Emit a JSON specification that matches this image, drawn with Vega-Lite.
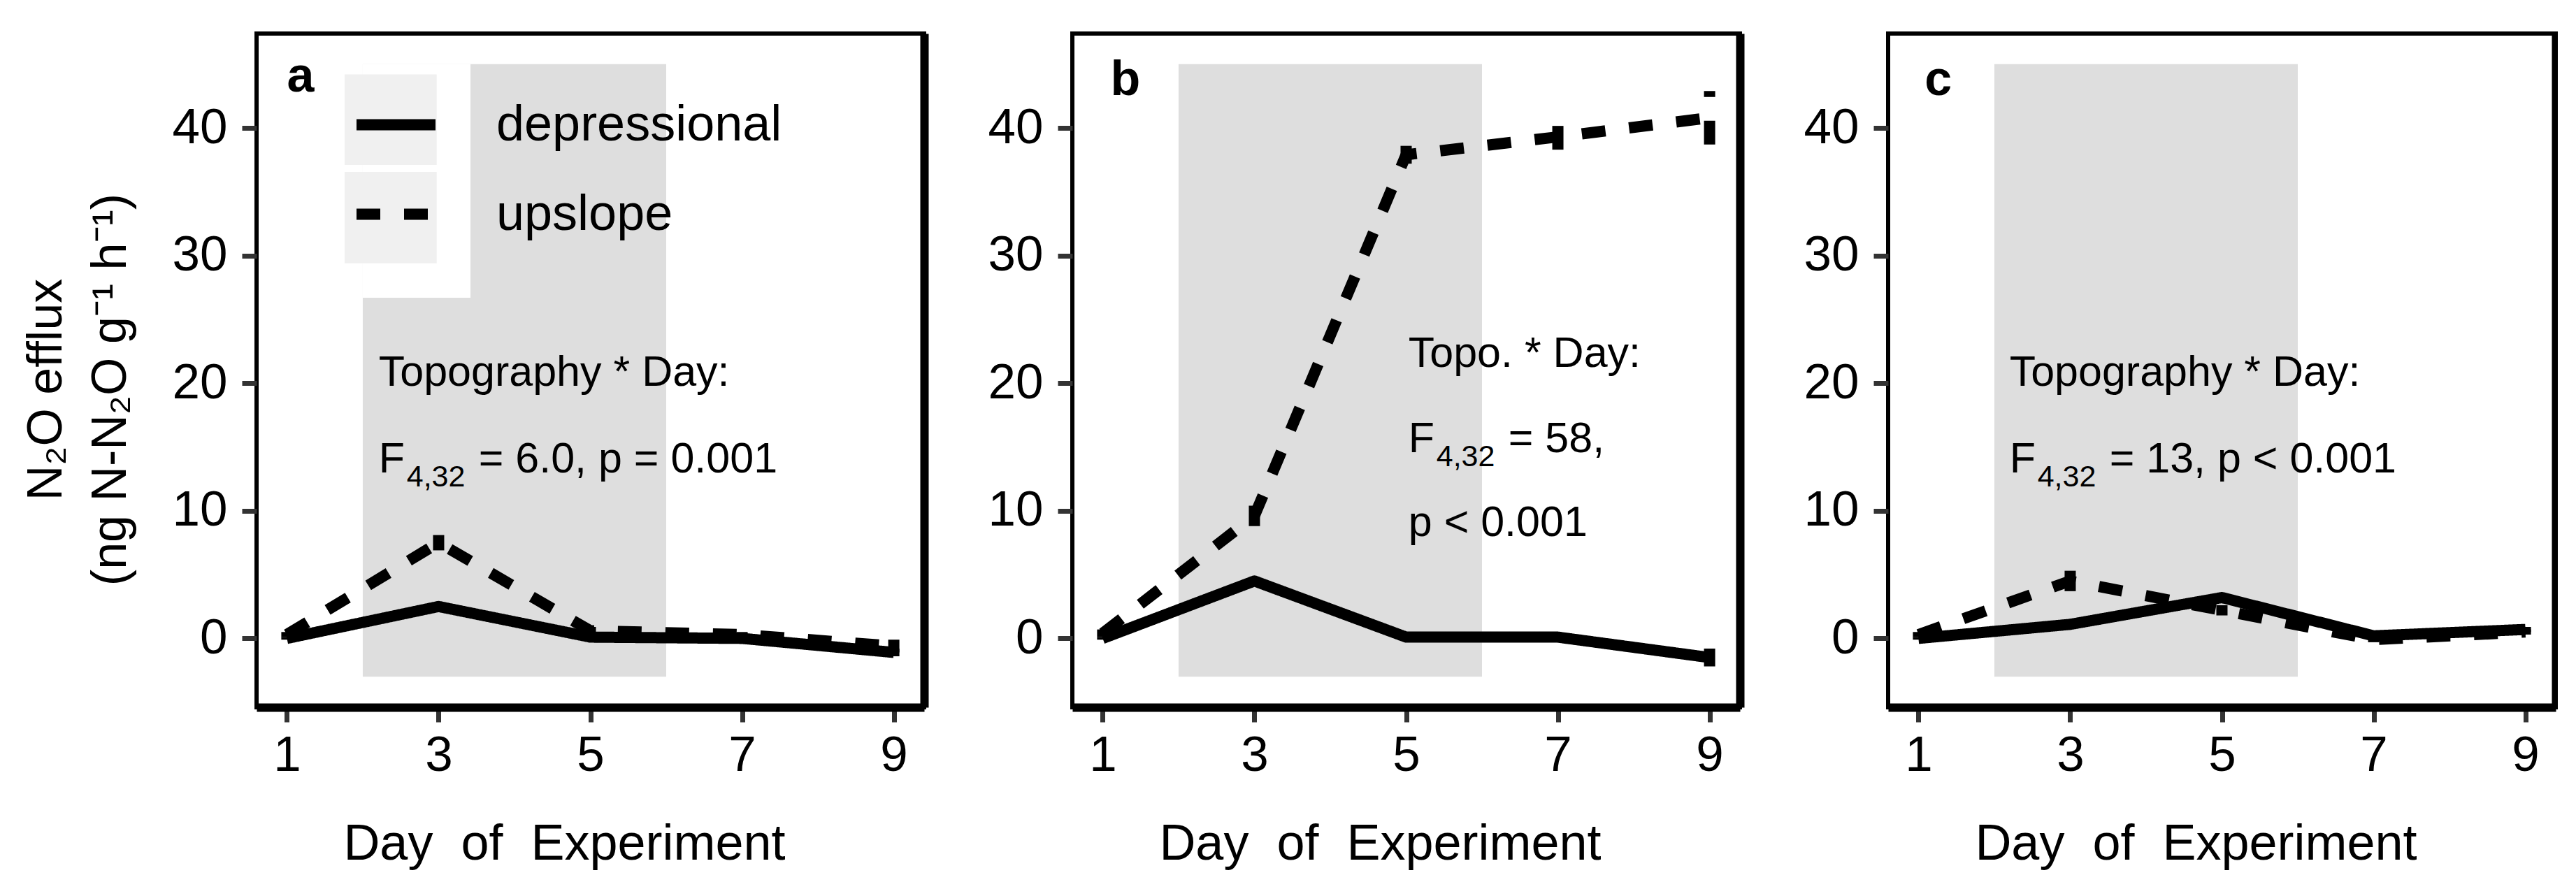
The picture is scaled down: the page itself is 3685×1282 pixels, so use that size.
{
  "$schema": "https://vega.github.io/schema/vega-lite/v6.json",
  "description": "N2O efflux by day of experiment for depressional and upslope soils, three panels.",
  "background": "white",
  "padding": {"left": 27, "top": 45, "right": 0, "bottom": 0},
  "spacing": 212,
  "bounds": "flush",
  "datasets": {
    "flux": [
      {"panel": "a", "day": 1, "topo": "depressional", "mean": 0.0, "lo": -0.1, "hi": 0.1},
      {"panel": "a", "day": 3, "topo": "depressional", "mean": 2.5, "lo": 2.2, "hi": 2.8},
      {"panel": "a", "day": 5, "topo": "depressional", "mean": 0.1, "lo": 0.0, "hi": 0.2},
      {"panel": "a", "day": 7, "topo": "depressional", "mean": 0.0, "lo": -0.1, "hi": 0.1},
      {"panel": "a", "day": 9, "topo": "depressional", "mean": -1.1, "lo": -1.4, "hi": -0.8},
      {"panel": "a", "day": 1, "topo": "upslope", "mean": 0.3, "lo": 0.1, "hi": 0.5},
      {"panel": "a", "day": 3, "topo": "upslope", "mean": 7.5, "lo": 6.9, "hi": 8.1},
      {"panel": "a", "day": 5, "topo": "upslope", "mean": 0.6, "lo": 0.3, "hi": 0.9},
      {"panel": "a", "day": 7, "topo": "upslope", "mean": 0.3, "lo": 0.1, "hi": 0.5},
      {"panel": "a", "day": 9, "topo": "upslope", "mean": -0.6, "lo": -1.1, "hi": -0.1},
      {"panel": "b", "day": 1, "topo": "depressional", "mean": 0.0, "lo": -0.1, "hi": 0.1},
      {"panel": "b", "day": 3, "topo": "depressional", "mean": 4.5, "lo": 4.2, "hi": 4.8},
      {"panel": "b", "day": 5, "topo": "depressional", "mean": 0.1, "lo": 0.0, "hi": 0.2},
      {"panel": "b", "day": 7, "topo": "depressional", "mean": 0.1, "lo": 0.0, "hi": 0.2},
      {"panel": "b", "day": 9, "topo": "depressional", "mean": -1.5, "lo": -2.2, "hi": -0.8},
      {"panel": "b", "day": 1, "topo": "upslope", "mean": 0.4, "lo": 0.1, "hi": 0.7},
      {"panel": "b", "day": 3, "topo": "upslope", "mean": 9.6, "lo": 8.8, "hi": 10.4},
      {"panel": "b", "day": 5, "topo": "upslope", "mean": 37.9, "lo": 37.2, "hi": 38.6},
      {"panel": "b", "day": 7, "topo": "upslope", "mean": 39.3, "lo": 38.3, "hi": 40.3},
      {"panel": "b", "day": 9, "topo": "upslope", "mean": 40.8, "lo": 38.7, "hi": 42.9},
      {"panel": "c", "day": 1, "topo": "depressional", "mean": 0.0, "lo": -0.1, "hi": 0.1},
      {"panel": "c", "day": 3, "topo": "depressional", "mean": 1.1, "lo": 0.9, "hi": 1.3},
      {"panel": "c", "day": 5, "topo": "depressional", "mean": 3.2, "lo": 2.9, "hi": 3.5},
      {"panel": "c", "day": 7, "topo": "depressional", "mean": 0.2, "lo": 0.1, "hi": 0.3},
      {"panel": "c", "day": 9, "topo": "depressional", "mean": 0.7, "lo": 0.5, "hi": 0.9},
      {"panel": "c", "day": 1, "topo": "upslope", "mean": 0.3, "lo": 0.1, "hi": 0.5},
      {"panel": "c", "day": 3, "topo": "upslope", "mean": 4.5, "lo": 3.7, "hi": 5.3},
      {"panel": "c", "day": 5, "topo": "upslope", "mean": 2.2, "lo": 1.8, "hi": 2.6},
      {"panel": "c", "day": 7, "topo": "upslope", "mean": -0.1, "lo": -0.3, "hi": 0.1},
      {"panel": "c", "day": 9, "topo": "upslope", "mean": 0.5, "lo": 0.3, "hi": 0.7}
    ],
    "shade": [
      {"start": 2, "end": 6, "low": -3, "high": 45}
    ],
    "legendbg": [
      {"part": "cutout", "x0": 2, "x1": 3.42, "y0": 26.7, "y1": 45},
      {"part": "key", "x0": 1.76, "x1": 2.975, "y0": 37.1, "y1": 44.2},
      {"part": "key", "x0": 1.76, "x1": 2.975, "y0": 29.4, "y1": 36.55}
    ],
    "notes": [
      {"panel": "a", "day": 2.21, "val": 19.8, "main": "Topography * Day:", "sub": "", "rest": ""},
      {"panel": "a", "day": 2.21, "val": 13.0, "main": "F", "sub": "4,32", "rest": "= 6.0, p = 0.001"},
      {"panel": "b", "day": 5.03, "val": 21.3, "main": "Topo. * Day:", "sub": "", "rest": ""},
      {"panel": "b", "day": 5.03, "val": 14.6, "main": "F", "sub": "4,32", "rest": "= 58,"},
      {"panel": "b", "day": 5.03, "val": 8.0, "main": "p < 0.001", "sub": "", "rest": ""},
      {"panel": "c", "day": 2.2, "val": 19.8, "main": "Topography * Day:", "sub": "", "rest": ""},
      {"panel": "c", "day": 2.2, "val": 13.0, "main": "F", "sub": "4,32", "rest": "= 13, p < 0.001"}
    ],
    "labels": [
      {"panel": "a", "day": 1.18, "val": 42.85, "text": "a"},
      {"panel": "b", "day": 1.3, "val": 42.6, "text": "b"},
      {"panel": "c", "day": 1.26, "val": 42.6, "text": "c"}
    ]
  },
  "resolve": {
    "scale": {"strokeDash": "independent"},
    "legend": {"strokeDash": "independent"}
  },
  "hconcat": [
    {
      "width": 955,
      "height": 964,
      "resolve": {"axis": {"y": "independent"}},
      "layer": [
        {
          "data": {"name": "shade"},
          "mark": {"type": "rect", "fill": "#dedede"},
          "encoding": {
            "x": {
              "field": "start", "type": "quantitative",
              "scale": {"domain": [0.6, 9.4], "nice": false, "zero": false},
              "axis": {"values": [1, 3, 5, 7, 9], "format": "d", "title": "Day\u00a0\u00a0of\u00a0\u00a0Experiment", "titleFontSize": 72, "domainColor": "black", "domainWidth": 12, "labelPadding": 13, "titleX": 440, "titleY": 217, "titleBaseline": "alphabetic"}
            },
            "x2": {"field": "end"},
            "y": {
              "field": "low", "type": "quantitative",
              "scale": {"domain": [-5.4, 47.4], "nice": false, "zero": false},
              "axis": {"values": [0, 10, 20, 30, 40], "domain": false, "labelPadding": 21, "title": ["N₂O efflux", "(ng N-N₂O g⁻¹ h⁻¹)"], "titleFontSize": 70, "titleLineHeight": 92, "titleX": -280, "titleY": 509, "titleBaseline": "alphabetic", "titleAngle": -90, "titleAlign": "center"}
            },
            "y2": {"field": "high"}
          }
        },
        {
          "data": {"name": "legendbg"},
          "transform": [{"filter": "datum.part == 'cutout'"}],
          "mark": {"type": "rect", "fill": "white"},
          "encoding": {
            "x": {"field": "x0", "type": "quantitative"},
            "x2": {"field": "x1"},
            "y": {"field": "y0", "type": "quantitative", "axis": null},
            "y2": {"field": "y1"}
          }
        },
        {
          "data": {"name": "legendbg"},
          "transform": [{"filter": "datum.part == 'key'"}],
          "mark": {"type": "rect", "fill": "#f0f0f0"},
          "encoding": {
            "x": {"field": "x0", "type": "quantitative"},
            "x2": {"field": "x1"},
            "y": {"field": "y0", "type": "quantitative", "axis": null},
            "y2": {"field": "y1"}
          }
        },
        {
          "data": {"name": "flux"},
          "transform": [{"filter": "datum.panel == 'a'"}],
          "mark": {"type": "rule", "strokeWidth": 16, "color": "black", "strokeCap": "butt"},
          "encoding": {
            "x": {"field": "day", "type": "quantitative"},
            "y": {"field": "lo", "type": "quantitative", "axis": null},
            "y2": {"field": "hi"},
            "strokeDash": {
              "field": "topo", "type": "nominal",
              "scale": {"domain": ["depressional", "upslope"], "range": [[1, 0], [34, 34]]},
              "legend": {"orient": "none", "legendX": 135, "legendY": 66, "title": null, "symbolType": "stroke", "symbolSize": 12769, "symbolStrokeWidth": 16, "symbolStrokeColor": "black", "labelFontSize": 72, "labelFont": "Liberation Sans", "labelColor": "black", "labelOffset": 79, "rowPadding": 27, "padding": 0, "labelLimit": 0}
            }
          }
        },
        {
          "data": {"name": "flux"},
          "transform": [{"filter": "datum.panel == 'a'"}],
          "mark": {"type": "line", "strokeWidth": 16, "color": "black", "strokeCap": "butt", "strokeJoin": "round"},
          "encoding": {
            "x": {"field": "day", "type": "quantitative"},
            "y": {"field": "mean", "type": "quantitative", "axis": null},
            "strokeDash": {
              "field": "topo", "type": "nominal",
              "scale": {"domain": ["depressional", "upslope"], "range": [[1, 0], [34, 34]]},
              "legend": {"orient": "none", "legendX": 135, "legendY": 66, "title": null, "symbolType": "stroke", "symbolSize": 12769, "symbolStrokeWidth": 16, "symbolStrokeColor": "black", "labelFontSize": 72, "labelFont": "Liberation Sans", "labelColor": "black", "labelOffset": 79, "rowPadding": 27, "padding": 0, "labelLimit": 0}
            }
          }
        },
        {
          "data": {"name": "notes"},
          "transform": [{"filter": "datum.panel == 'a'"}],
          "mark": {"type": "text", "align": "left", "baseline": "alphabetic", "fontSize": 61, "font": "Liberation Sans", "color": "black"},
          "encoding": {
            "x": {"field": "day", "type": "quantitative"},
            "y": {"field": "val", "type": "quantitative", "axis": null},
            "text": {"field": "main"}
          }
        },
        {
          "data": {"name": "notes"},
          "transform": [{"filter": "datum.panel == 'a'"}],
          "mark": {"type": "text", "align": "left", "baseline": "alphabetic", "fontSize": 43, "font": "Liberation Sans", "color": "black", "dx": 40, "dy": 20},
          "encoding": {
            "x": {"field": "day", "type": "quantitative"},
            "y": {"field": "val", "type": "quantitative", "axis": null},
            "text": {"field": "sub"}
          }
        },
        {
          "data": {"name": "notes"},
          "transform": [{"filter": "datum.panel == 'a'"}],
          "mark": {"type": "text", "align": "left", "baseline": "alphabetic", "fontSize": 61, "font": "Liberation Sans", "color": "black", "dx": 143},
          "encoding": {
            "x": {"field": "day", "type": "quantitative"},
            "y": {"field": "val", "type": "quantitative", "axis": null},
            "text": {"field": "rest"}
          }
        },
        {
          "data": {"name": "labels"},
          "transform": [{"filter": "datum.panel == 'a'"}],
          "mark": {"type": "text", "align": "center", "baseline": "alphabetic", "fontSize": 70, "fontWeight": "bold", "font": "Liberation Sans", "color": "black"},
          "encoding": {
            "x": {"field": "day", "type": "quantitative"},
            "y": {"field": "val", "type": "quantitative", "axis": {"orient": "right", "labels": false, "ticks": false, "title": null, "domainColor": "black", "domainWidth": 12}},
            "text": {"field": "text"}
          }
        }
      ]
    },
    {
      "width": 955,
      "height": 964,
      "resolve": {"axis": {"y": "independent"}},
      "layer": [
        {
          "data": {"name": "shade"},
          "mark": {"type": "rect", "fill": "#dedede"},
          "encoding": {
            "x": {
              "field": "start", "type": "quantitative",
              "scale": {"domain": [0.6, 9.4], "nice": false, "zero": false},
              "axis": {"values": [1, 3, 5, 7, 9], "format": "d", "title": "Day\u00a0\u00a0of\u00a0\u00a0Experiment", "titleFontSize": 72, "domainColor": "black", "domainWidth": 12, "labelPadding": 13, "titleX": 440, "titleY": 217, "titleBaseline": "alphabetic"}
            },
            "x2": {"field": "end"},
            "y": {
              "field": "low", "type": "quantitative",
              "scale": {"domain": [-5.4, 47.4], "nice": false, "zero": false},
              "axis": {"values": [0, 10, 20, 30, 40], "domain": false, "labelPadding": 21, "title": null}
            },
            "y2": {"field": "high"}
          }
        },
        {
          "data": {"name": "flux"},
          "transform": [{"filter": "datum.panel == 'b'"}],
          "mark": {"type": "rule", "strokeWidth": 16, "color": "black", "strokeCap": "butt"},
          "encoding": {
            "x": {"field": "day", "type": "quantitative"},
            "y": {"field": "lo", "type": "quantitative", "axis": null},
            "y2": {"field": "hi"},
            "strokeDash": {"field": "topo", "type": "nominal", "scale": {"domain": ["depressional", "upslope"], "range": [[1, 0], [34, 34]]}, "legend": null}
          }
        },
        {
          "data": {"name": "flux"},
          "transform": [{"filter": "datum.panel == 'b'"}],
          "mark": {"type": "line", "strokeWidth": 16, "color": "black", "strokeCap": "butt", "strokeJoin": "round"},
          "encoding": {
            "x": {"field": "day", "type": "quantitative"},
            "y": {"field": "mean", "type": "quantitative", "axis": null},
            "strokeDash": {"field": "topo", "type": "nominal", "scale": {"domain": ["depressional", "upslope"], "range": [[1, 0], [34, 34]]}, "legend": null}
          }
        },
        {
          "data": {"name": "notes"},
          "transform": [{"filter": "datum.panel == 'b'"}],
          "mark": {"type": "text", "align": "left", "baseline": "alphabetic", "fontSize": 61, "font": "Liberation Sans", "color": "black"},
          "encoding": {
            "x": {"field": "day", "type": "quantitative"},
            "y": {"field": "val", "type": "quantitative", "axis": null},
            "text": {"field": "main"}
          }
        },
        {
          "data": {"name": "notes"},
          "transform": [{"filter": "datum.panel == 'b'"}],
          "mark": {"type": "text", "align": "left", "baseline": "alphabetic", "fontSize": 43, "font": "Liberation Sans", "color": "black", "dx": 40, "dy": 20},
          "encoding": {
            "x": {"field": "day", "type": "quantitative"},
            "y": {"field": "val", "type": "quantitative", "axis": null},
            "text": {"field": "sub"}
          }
        },
        {
          "data": {"name": "notes"},
          "transform": [{"filter": "datum.panel == 'b'"}],
          "mark": {"type": "text", "align": "left", "baseline": "alphabetic", "fontSize": 61, "font": "Liberation Sans", "color": "black", "dx": 143},
          "encoding": {
            "x": {"field": "day", "type": "quantitative"},
            "y": {"field": "val", "type": "quantitative", "axis": null},
            "text": {"field": "rest"}
          }
        },
        {
          "data": {"name": "labels"},
          "transform": [{"filter": "datum.panel == 'b'"}],
          "mark": {"type": "text", "align": "center", "baseline": "alphabetic", "fontSize": 70, "fontWeight": "bold", "font": "Liberation Sans", "color": "black"},
          "encoding": {
            "x": {"field": "day", "type": "quantitative"},
            "y": {"field": "val", "type": "quantitative", "axis": {"orient": "right", "labels": false, "ticks": false, "title": null, "domainColor": "black", "domainWidth": 12}},
            "text": {"field": "text"}
          }
        }
      ]
    },
    {
      "width": 955,
      "height": 964,
      "resolve": {"axis": {"y": "independent"}},
      "layer": [
        {
          "data": {"name": "shade"},
          "mark": {"type": "rect", "fill": "#dedede"},
          "encoding": {
            "x": {
              "field": "start", "type": "quantitative",
              "scale": {"domain": [0.6, 9.4], "nice": false, "zero": false},
              "axis": {"values": [1, 3, 5, 7, 9], "format": "d", "title": "Day\u00a0\u00a0of\u00a0\u00a0Experiment", "titleFontSize": 72, "domainColor": "black", "domainWidth": 12, "labelPadding": 13, "titleX": 440, "titleY": 217, "titleBaseline": "alphabetic"}
            },
            "x2": {"field": "end"},
            "y": {
              "field": "low", "type": "quantitative",
              "scale": {"domain": [-5.4, 47.4], "nice": false, "zero": false},
              "axis": {"values": [0, 10, 20, 30, 40], "domain": false, "labelPadding": 21, "title": null}
            },
            "y2": {"field": "high"}
          }
        },
        {
          "data": {"name": "flux"},
          "transform": [{"filter": "datum.panel == 'c'"}],
          "mark": {"type": "rule", "strokeWidth": 16, "color": "black", "strokeCap": "butt"},
          "encoding": {
            "x": {"field": "day", "type": "quantitative"},
            "y": {"field": "lo", "type": "quantitative", "axis": null},
            "y2": {"field": "hi"},
            "strokeDash": {"field": "topo", "type": "nominal", "scale": {"domain": ["depressional", "upslope"], "range": [[1, 0], [34, 34]]}, "legend": null}
          }
        },
        {
          "data": {"name": "flux"},
          "transform": [{"filter": "datum.panel == 'c'"}],
          "mark": {"type": "line", "strokeWidth": 16, "color": "black", "strokeCap": "butt", "strokeJoin": "round"},
          "encoding": {
            "x": {"field": "day", "type": "quantitative"},
            "y": {"field": "mean", "type": "quantitative", "axis": null},
            "strokeDash": {"field": "topo", "type": "nominal", "scale": {"domain": ["depressional", "upslope"], "range": [[1, 0], [34, 34]]}, "legend": null}
          }
        },
        {
          "data": {"name": "notes"},
          "transform": [{"filter": "datum.panel == 'c'"}],
          "mark": {"type": "text", "align": "left", "baseline": "alphabetic", "fontSize": 61, "font": "Liberation Sans", "color": "black"},
          "encoding": {
            "x": {"field": "day", "type": "quantitative"},
            "y": {"field": "val", "type": "quantitative", "axis": null},
            "text": {"field": "main"}
          }
        },
        {
          "data": {"name": "notes"},
          "transform": [{"filter": "datum.panel == 'c'"}],
          "mark": {"type": "text", "align": "left", "baseline": "alphabetic", "fontSize": 43, "font": "Liberation Sans", "color": "black", "dx": 40, "dy": 20},
          "encoding": {
            "x": {"field": "day", "type": "quantitative"},
            "y": {"field": "val", "type": "quantitative", "axis": null},
            "text": {"field": "sub"}
          }
        },
        {
          "data": {"name": "notes"},
          "transform": [{"filter": "datum.panel == 'c'"}],
          "mark": {"type": "text", "align": "left", "baseline": "alphabetic", "fontSize": 61, "font": "Liberation Sans", "color": "black", "dx": 143},
          "encoding": {
            "x": {"field": "day", "type": "quantitative"},
            "y": {"field": "val", "type": "quantitative", "axis": null},
            "text": {"field": "rest"}
          }
        },
        {
          "data": {"name": "labels"},
          "transform": [{"filter": "datum.panel == 'c'"}],
          "mark": {"type": "text", "align": "center", "baseline": "alphabetic", "fontSize": 70, "fontWeight": "bold", "font": "Liberation Sans", "color": "black"},
          "encoding": {
            "x": {"field": "day", "type": "quantitative"},
            "y": {"field": "val", "type": "quantitative", "axis": {"orient": "right", "labels": false, "ticks": false, "title": null, "domainColor": "black", "domainWidth": 12}},
            "text": {"field": "text"}
          }
        }
      ]
    }
  ],
  "config": {
    "view": {"stroke": "black", "strokeWidth": 6},
    "axis": {
      "grid": false,
      "labelFont": "Liberation Sans",
      "labelFontSize": 71,
      "labelColor": "black",
      "tickColor": "#333333",
      "tickWidth": 7,
      "tickSize": 21,
      "titleFont": "Liberation Sans",
      "titleFontWeight": "normal",
      "titleColor": "black"
    }
  }
}
